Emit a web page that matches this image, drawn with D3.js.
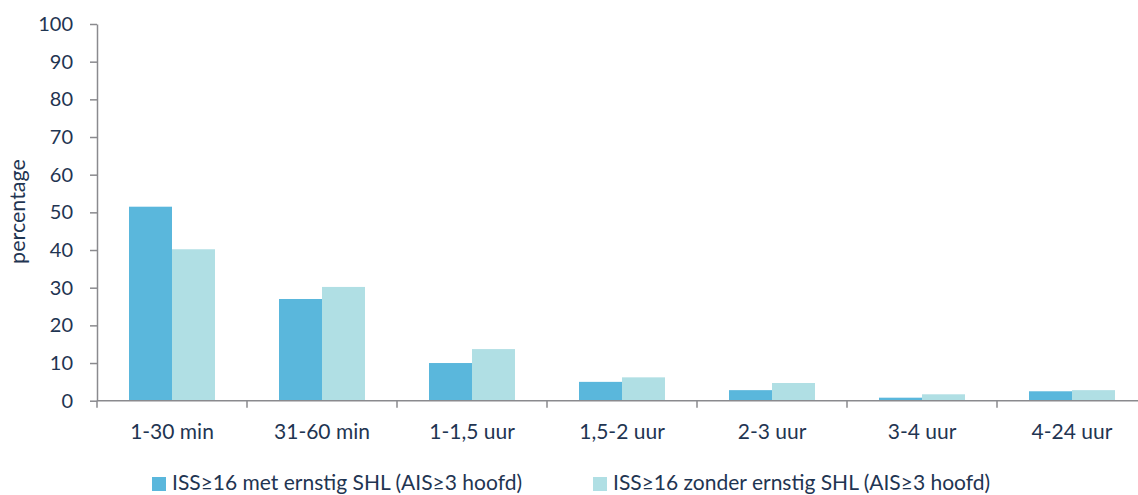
<!DOCTYPE html>
<html><head><meta charset="utf-8">
<script src="https://cdn.jsdelivr.net/npm/d3@7"></script>
<style>body{margin:0;background:#fff;} svg{display:block;} text{font-family:Lato, sans-serif;}</style>
</head><body>
<svg id="c" width="1138" height="495"></svg>
<script>
const categories = ["1-30 min","31-60 min","1-1,5 uur","1,5-2 uur","2-3 uur","3-4 uur","4-24 uur"];
const seriesNames = ["ISS≥16 met ernstig SHL (AIS≥3 hoofd)","ISS≥16 zonder ernstig SHL (AIS≥3 hoofd)"];
const metSHL = [51.5, 27.0, 10.0, 5.0, 2.8, 0.8, 2.5];
const zonderSHL = [40.2, 30.2, 13.7, 6.2, 4.7, 1.7, 2.8];
const yTicks = [0,10,20,30,40,50,60,70,80,90,100];
const colors = ["#5AB7DC","#B0DFE4"];
const textColor = "#1F3552";
const axisColor = "#8A8A8E";

const svg = d3.select("#c");
const plotLeft = 97, plotTop = 24, plotBottom = 400.7, bandW = 150;
const x = d3.scaleBand().domain(categories).range([plotLeft, plotLeft + bandW*categories.length]).padding(0);
const y = d3.scaleLinear().domain([0,100]).range([plotBottom, plotTop]);
const x1 = d3.scaleBand().domain([0,1]).range([-43, 43]).padding(0);
const values = [metSHL, zonderSHL];

// bars
const g = svg.append("g");
categories.forEach((c,i)=>{
  values.forEach((vals,s)=>{
    g.append("rect")
      .attr("x", x(c) + x.bandwidth()/2 + x1(s))
      .attr("y", y(vals[i]))
      .attr("width", x1.bandwidth())
      .attr("height", y(0)-y(vals[i]))
      .attr("fill", colors[s]);
  });
});

// y axis
const yAxis = svg.append("g").attr("transform",`translate(${plotLeft},0)`)
  .call(d3.axisLeft(y).tickValues(yTicks).tickSize(7).tickSizeOuter(0).tickPadding(17));
yAxis.selectAll("path,line").attr("stroke",axisColor).attr("stroke-width",1.5);
yAxis.selectAll("text").attr("fill",textColor).style("font-size","20px").style("font-family","Lato");

// x axis line & boundary ticks
const bounds = categories.map(c=>x(c)).concat([x.range()[1]]);
svg.append("line").attr("x1",plotLeft).attr("x2",1138).attr("y1",y(0)).attr("y2",y(0))
  .attr("stroke",axisColor).attr("stroke-width",1.5);
svg.append("g").selectAll("line").data(bounds).join("line")
  .attr("x1",d=>d).attr("x2",d=>d).attr("y1",y(0)).attr("y2",y(0)+7)
  .attr("stroke",axisColor).attr("stroke-width",1.5);
const xAxis = svg.append("g").attr("transform",`translate(0,${y(0)})`)
  .call(d3.axisBottom(x).tickSize(0).tickPadding(23));
xAxis.select(".domain").remove();
xAxis.selectAll("text").attr("fill",textColor).style("font-size","21px").style("font-family","Lato");

// y label
svg.append("text").attr("transform","translate(25,211.5) rotate(-90)")
  .attr("text-anchor","middle").attr("fill",textColor).style("font-size","21.5px").text("percentage");

// legend
const legX = [152, 593];
seriesNames.forEach((n,i)=>{
  svg.append("rect").attr("x",legX[i]).attr("y",477).attr("width",14).attr("height",14).attr("fill",colors[i]);
  svg.append("text").attr("x",legX[i]+20).attr("y",489.5).attr("fill",textColor).style("font-size","21px").text(n);
});
</script>
</body></html>
